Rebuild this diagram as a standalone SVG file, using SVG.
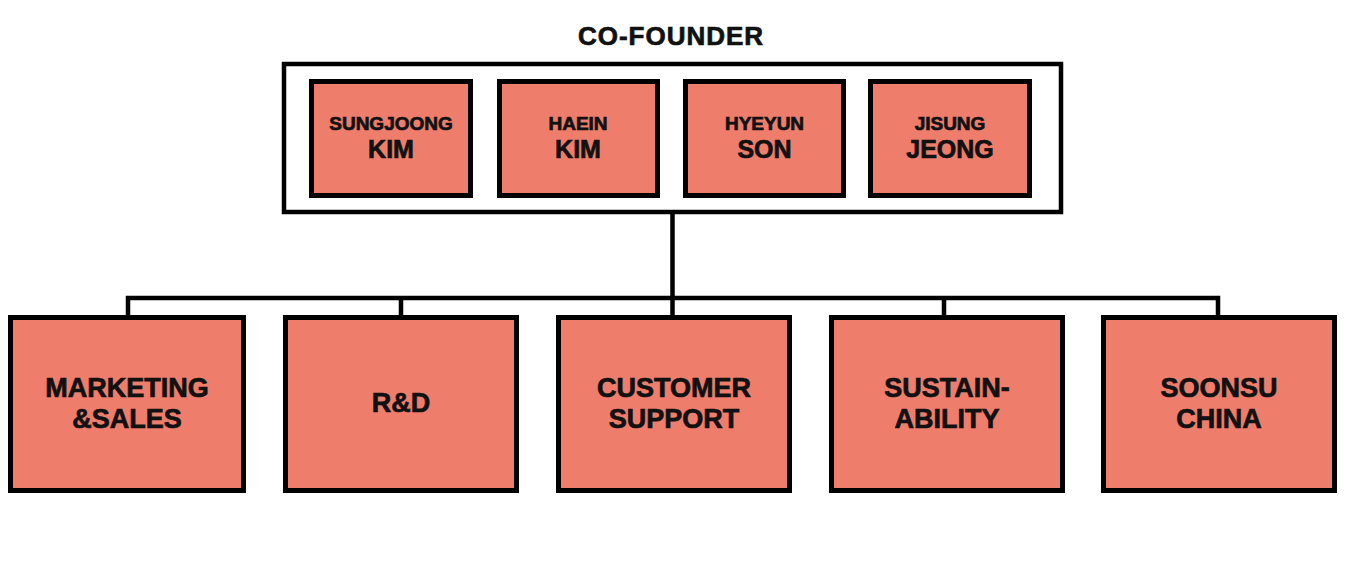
<svg xmlns="http://www.w3.org/2000/svg" width="1347" height="562" viewBox="0 0 1347 562">
<style>
.box{fill:#EE7E6B;stroke:#000;stroke-width:5}
.frame{fill:#fff;stroke:#000;stroke-width:4.5}
.conn{stroke:#000;stroke-width:4.5;fill:none;stroke-linecap:square}
text{font-family:"Liberation Sans",Arial,sans-serif;font-weight:bold;fill:#111;stroke:#111;stroke-width:0.7;text-anchor:middle}
.t{font-size:26px;letter-spacing:1px}
.s{font-size:19px}
.b{font-size:25px}
.d{font-size:27px}
</style>
<rect width="1347" height="562" fill="#fff"/>
<text class="t" x="671" y="45">CO-FOUNDER</text>
<rect class="frame" x="284" y="64" width="777" height="148"/>
<g id="connectors">
<path class="conn" d="M672.5 214V298M128 298H1218M128 298V315M401 298V315M672.5 298V315M944 298V315M1218 298V315"/>
</g>
<g id="n-sungjoong"><rect class="box" x="311.5" y="81.5" width="159" height="114"/><text class="s" x="391" y="130">SUNGJOONG</text><text class="b" x="391" y="158">KIM</text></g>
<g id="n-haein"><rect class="box" x="499.5" y="81.5" width="158" height="114"/><text class="s" x="578" y="130">HAEIN</text><text class="b" x="578" y="158">KIM</text></g>
<g id="n-hyeyun"><rect class="box" x="685.5" y="81.5" width="158" height="114"/><text class="s" x="764.5" y="130">HYEYUN</text><text class="b" x="764.5" y="158">SON</text></g>
<g id="n-jisung"><rect class="box" x="870.5" y="81.5" width="159" height="114"/><text class="s" x="950" y="130">JISUNG</text><text class="b" x="950" y="158">JEONG</text></g>
<g id="n-marketing"><rect class="box" x="10.5" y="317.5" width="233" height="173"/><text class="d" x="127" y="397">MARKETING</text><text class="d" x="127" y="428">&amp;SALES</text></g>
<g id="n-rd"><rect class="box" x="285.5" y="317.5" width="231" height="173"/><text class="d" x="401" y="412">R&amp;D</text></g>
<g id="n-customer"><rect class="box" x="558.5" y="317.5" width="231" height="173"/><text class="d" x="674" y="397">CUSTOMER</text><text class="d" x="674" y="428">SUPPORT</text></g>
<g id="n-sustain"><rect class="box" x="831.5" y="317.5" width="231" height="173"/><text class="d" x="947" y="397">SUSTAIN-</text><text class="d" x="947" y="428">ABILITY</text></g>
<g id="n-soonsu"><rect class="box" x="1103.5" y="317.5" width="231" height="173"/><text class="d" x="1219" y="397">SOONSU</text><text class="d" x="1219" y="428">CHINA</text></g>
</svg>
